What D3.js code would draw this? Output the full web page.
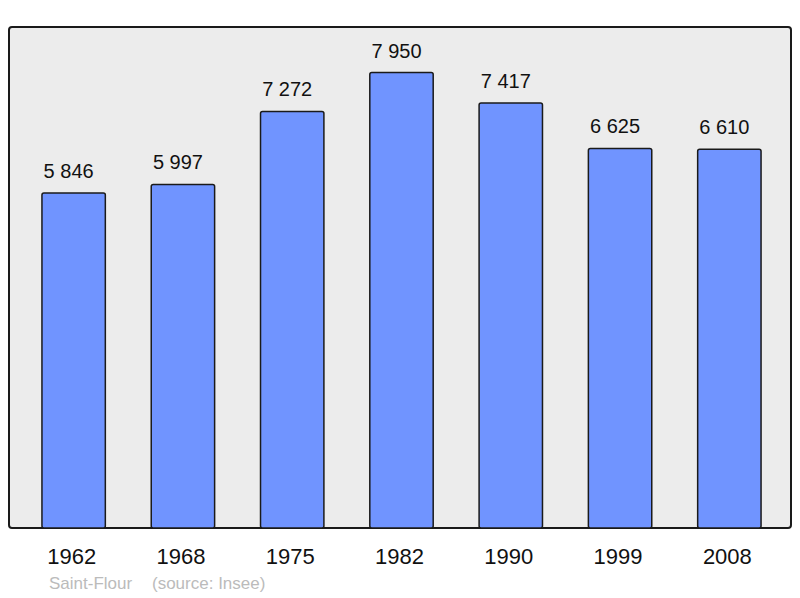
<!DOCTYPE html>
<html>
<head>
<meta charset="utf-8">
<script src="https://cdn.jsdelivr.net/npm/d3@7"></script>
<style>
  body { margin: 0; background: #fff; }
  svg { display: block; font-family: "Liberation Sans", Arial, sans-serif; }
</style>
</head>
<body>
<svg id="chart" width="800" height="598"></svg>
<script>
// données
const years = ['1962', '1968', '1975', '1982', '1990', '1999', '2008']
const population = [5846, 5997, 7272, 7950, 7417, 6625, 6610]
const commune = 'Saint-Flour'
const source = '(source: Insee)'

const svg = d3.select('#chart')
const panel = { left: 9, top: 27, right: 791, bottom: 528 }

// échelles
const x = d3.scaleBand()
  .domain(years)
  .range([19, 784])
  .paddingInner(0.42)
  .paddingOuter(0.21)
const y = d3.scaleLinear()
  .domain([0, d3.max(population) * 1.1])
  .range([panel.bottom, panel.top])

const fmt = (v) => d3.format(',')(v).replace(',', ' ')

// fond
svg.append('rect')
  .attr('x', panel.left)
  .attr('y', panel.top)
  .attr('width', panel.right - panel.left)
  .attr('height', panel.bottom - panel.top)
  .attr('rx', 3)
  .attr('fill', '#ececec')
  .attr('stroke', '#1a1a1a')
  .attr('stroke-width', 2)

// barres
svg.selectAll('.bar')
  .data(years)
  .enter()
  .append('rect')
  .attr('class', 'bar')
  .attr('x', (d) => x(d))
  .attr('y', (d, i) => y(population[i]))
  .attr('width', x.bandwidth())
  .attr('height', (d, i) => y(0) - y(population[i]))
  .attr('rx', 2)
  .attr('fill', '#7094ff')
  .attr('stroke', '#1a1a1a')
  .attr('stroke-width', 1.5)

// étiquettes de valeur (un peu décalées à gauche, comme l'original)
svg.selectAll('.val')
  .data(years)
  .enter()
  .append('text')
  .attr('class', 'val')
  .attr('x', (d) => x(d) + x.bandwidth() / 2 - 5)
  .attr('y', (d, i) => y(population[i]) - 15)
  .attr('text-anchor', 'middle')
  .attr('font-size', '20px')
  .attr('fill', '#111')
  .text((d, i) => fmt(population[i]))

// axe des années
const axis = svg.append('g')
  .attr('transform', `translate(-2,${panel.bottom})`)
  .call(d3.axisBottom(x).tickSize(0).tickPadding(0))
axis.select('.domain').remove()
axis.selectAll('text')
  .attr('y', 36)
  .attr('dy', 0)
  .attr('font-size', '22px')
  .attr('font-family', '"Liberation Sans", Arial, sans-serif')
  .attr('fill', '#111')

// pied
svg.append('text')
  .attr('x', 49)
  .attr('y', 589)
  .attr('font-size', '17px')
  .attr('fill', '#bbbbbb')
  .text(commune)
svg.append('text')
  .attr('x', 152)
  .attr('y', 589)
  .attr('font-size', '17px')
  .attr('fill', '#bbbbbb')
  .text(source)
</script>
</body>
</html>
